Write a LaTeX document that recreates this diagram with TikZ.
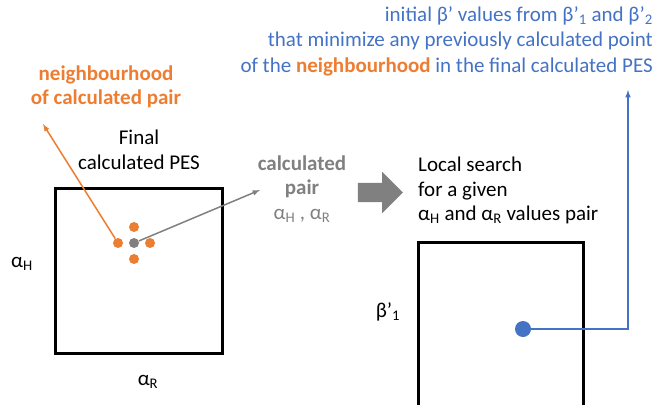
\documentclass[tikz,border=0pt]{standalone}
\usepackage{fontspec}
\setmainfont{Carlito}
\usepackage{tikz}
\usetikzlibrary{shapes,arrows,positioning,calc}

\definecolor{pesorange}{HTML}{ED7D31}
\definecolor{pesblue}{HTML}{4472C4}
\definecolor{pesgray}{HTML}{808080}

\begin{document}
\begin{tikzpicture}[x=1pt, y=-1pt, every node/.style={font=\fontsize{21}{24.5}\selectfont, inner sep=0pt},
    dot/.style={circle, fill=pesorange, minimum size=10pt},
    box/.style={draw, line width=3pt}]
    \useasboundingbox (0,0) rectangle (655,404);

    % left square: final PES
    \draw[box] (55,188) rectangle (222,353);
    \node (aH) at (22,264) {α\textsubscript{H}};
    \node (aR) at (148,382) {α\textsubscript{R}};
    \node[align=center] (final) at (139,150) {Final\\calculated PES};

    % calculated pair and its neighbours
    \node[dot, fill=pesgray] (pc) at (134,243) {};
    \node[dot] (nl) at (118,243) {};
    \node[dot] (nr) at (150,243) {};
    \node[dot] (nt) at (134,227) {};
    \node[dot] (nb) at (134,259) {};

    \node[text=pesorange, font=\fontsize{21}{23.5}\selectfont\bfseries, align=center] (neigh) at (106,87) {neighbourhood\\of calculated pair};
    \coordinate (neightip) at (43,124);
    \draw[pesorange, line width=1.5pt, -latex] (nl) -- (neightip);

    \node[text=pesgray, align=center] (pair) at (302,189) {\textbf{calculated}\\\textbf{pair}\\α\textsubscript{H} , α\textsubscript{R}};
    \coordinate (pairtip) at (260,190);
    \draw[pesgray, line width=1.5pt, -latex] (pc) -- (pairtip);

    \node[single arrow, fill=pesgray, minimum height=45pt, inner xsep=0pt, inner ysep=9.5pt,
          single arrow head extend=11pt] (big) at (375.5,192.5) {};

    % right rectangle: local search
    \node[align=left, anchor=north west] (local) at (418,157) {Local search\\for a given\\α\textsubscript{H} and α\textsubscript{R} values pair};
    \draw[box] (418,406) -- (418,242) -- (583,242) -- (583,406);
    \node (b1) at (388,312) {β’\textsubscript{1}};

    \node[circle, fill=pesblue, minimum size=16pt] (bdot) at (523,329) {};
    \node[text=pesblue, align=right, anchor=north east, font=\fontsize{21}{25.5}\selectfont] (init) at (653,6)
        {initial β’ values from β’\textsubscript{1} and β’\textsubscript{2}\\
         that minimize any previously calculated point\\
         of the \textcolor{pesorange}{\textbf{neighbourhood}} in the final calculated PES};
    \coordinate (inittip) at (628,90);
    \draw[pesblue, line width=1.5pt, -latex] (bdot) -| (inittip);
\end{tikzpicture}
\end{document}
